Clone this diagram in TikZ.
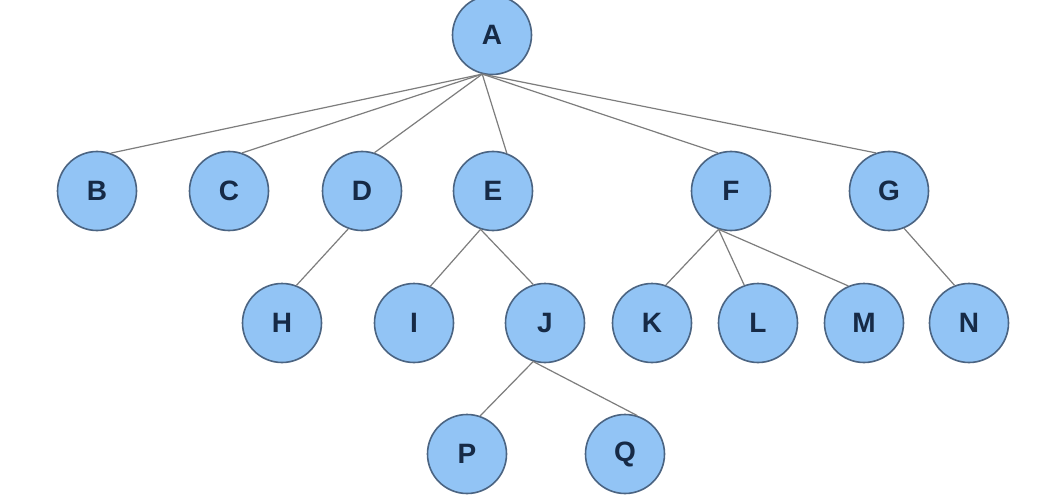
\documentclass[tikz,border=0pt]{standalone}
\usepackage{fontspec}
\setmainfont{Liberation Sans}
\definecolor{nodefill}{RGB}{146,196,245}
\definecolor{nodeborder}{RGB}{75,100,130}
\definecolor{nodetext}{RGB}{22,42,70}
\definecolor{edgecol}{RGB}{125,125,125}
\begin{document}
\begin{tikzpicture}[x=1pt,y=-1pt,
  vertex/.style={circle,draw=nodeborder,fill=nodefill,line width=1.6pt,minimum size=79pt,inner sep=0pt,text=nodetext,font=\fontsize{28}{28}\selectfont\bfseries},
  link/.style={draw=edgecol,line width=1.2pt}]
\useasboundingbox (0,0) rectangle (1055,500);
\fill[white] (0,0) rectangle (1055,500);
\node[vertex] (A) at (492,35) {A};
\node[vertex] (B) at (97,191) {B};
\node[vertex] (C) at (229,191) {C};
\node[vertex] (D) at (362,191) {D};
\node[vertex] (E) at (493,191) {E};
\node[vertex] (F) at (731,191) {F};
\node[vertex] (G) at (889,191) {G};
\node[vertex] (H) at (282,323) {H};
\node[vertex] (I) at (414,323) {I};
\node[vertex] (J) at (545,323) {J};
\node[vertex] (K) at (652,323) {K};
\node[vertex] (L) at (758,323) {L};
\node[vertex] (M) at (864,323) {M};
\node[vertex] (N) at (969,323) {N};
\node[vertex] (P) at (467,454) {P};
\node[vertex] (Q) at (625,454) {Q};
\path[link] (A.-104) -- (B.70);
\path[link] (A.-104) -- (C.71);
\path[link] (A.-104) -- (D.72);
\path[link] (A.-104) -- (E.70);
\path[link] (A.-104) -- (F.109);
\path[link] (A.-104) -- (G.109);
\path[link] (D.-110) -- (H.69);
\path[link] (E.-108) -- (I.66);
\path[link] (E.-108) -- (J.107);
\path[link] (F.-108) -- (K.70);
\path[link] (F.-108) -- (L.110);
\path[link] (F.-108) -- (M.113);
\path[link] (G.-68) -- (N.111);
\path[link] (J.-107) -- (P.71);
\path[link] (J.-107) -- (Q.72);
\end{tikzpicture}
\end{document}
